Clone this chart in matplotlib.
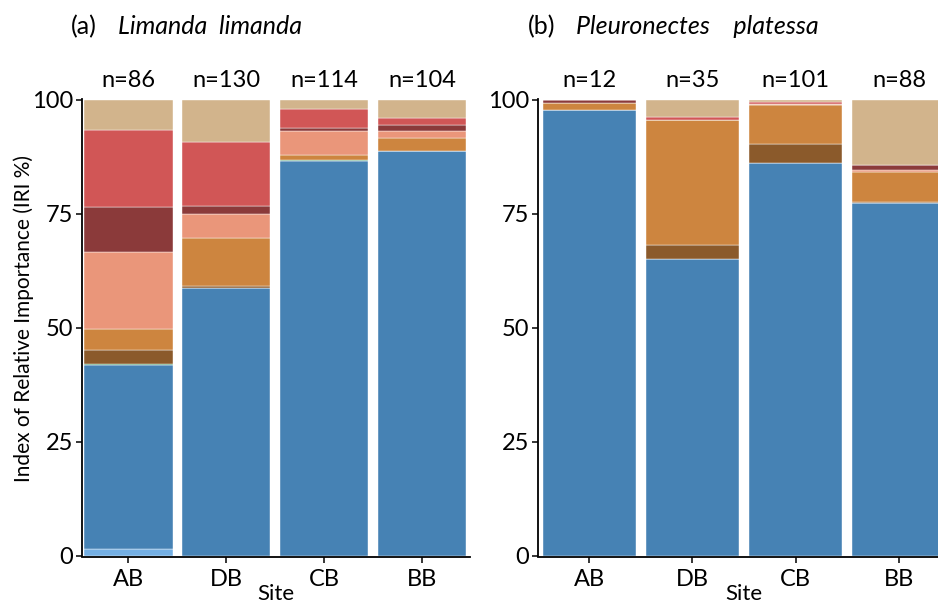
import numpy as np
import matplotlib
matplotlib.use("Agg")
import matplotlib.pyplot as plt

plt.rcParams["font.family"] = ["Lato", "DejaVu Sans"]

# Data (IRI %), stacked bottom -> top
sites = ["AB", "DB", "CB", "BB"]
prey = ["p1", "p2", "p3", "p4", "p5", "p6", "p7", "p8", "p9"]
colors = ["#74AFE3", "#4682B4", "#2E8B57", "#8B5A2B", "#CD853F",
          "#EA967A", "#8B3A3A", "#D15656", "#D2B48C"]

# Limanda limanda
dab_n = ["n=86", "n=130", "n=114", "n=104"]
dab_vals = [
    [1.4, 0.0, 0.0, 0.0],     # p1
    [40.4, 58.8, 86.6, 88.8], # p2
    [0.2, 0.0, 0.2, 0.0],     # p3
    [3.2, 0.4, 0.0, 0.0],     # p4
    [4.6, 10.4, 1.2, 2.9],    # p5
    [16.8, 5.3, 5.2, 1.5],    # p6
    [9.8, 1.9, 0.7, 1.4],     # p7
    [16.9, 14.0, 4.2, 1.4],   # p8
    [6.7, 9.2, 1.9, 4.0],     # p9
]

# Pleuronectes platessa
plaice_n = ["n=12", "n=35", "n=101", "n=88"]
plaice_vals = [
    [0.0, 0.0, 0.0, 0.0],
    [97.8, 65.1, 86.2, 77.4],
    [0.0, 0.0, 0.0, 0.0],
    [0.0, 3.0, 4.1, 0.2],
    [1.5, 27.4, 8.6, 6.6],
    [0.0, 0.2, 0.3, 0.5],
    [0.7, 0.0, 0.0, 1.1],
    [0.0, 0.6, 0.3, 0.0],
    [0.0, 3.7, 0.5, 14.2],
]

W, H = 938, 606
FS = 17
fig = plt.figure(figsize=(W / 100, H / 100), dpi=100)


def px_axes(x0, x1, y0, y1):
    return fig.add_axes([x0 / W, 1 - y1 / H, (x1 - x0) / W, (y1 - y0) / H])


def draw_panel(ax, vals, nlabs, xlim, label, species, tx, sx):
    x = np.arange(1, len(sites) + 1)
    bottom = np.zeros(len(sites))
    for v, c in zip(vals, colors):
        v = np.array(v)
        ax.bar(x, v, width=0.9, bottom=bottom, color=c,
               edgecolor="#FFFFFF", linewidth=0.3)
        bottom += v
    ax.set_xlim(*xlim)
    ax.set_ylim(-0.3, 100.2)
    ax.set_yticks([0, 25, 50, 75, 100])
    ax.set_xticks(x)
    ax.set_xticklabels(sites)
    for s in ["top", "right"]:
        ax.spines[s].set_visible(False)
    ax.spines["left"].set_bounds(0, 100.2)
    for s in ["left", "bottom"]:
        ax.spines[s].set_linewidth(1.3)
    ax.tick_params(length=4, width=1.1, labelsize=FS, pad=2)
    ax.tick_params(axis="x", pad=5)
    for xi, t in zip(x, nlabs):
        ax.text(xi, 104.2, t, ha="center", va="center", fontsize=FS,
                clip_on=False)
    ax.set_xlabel("Site", fontsize=16, labelpad=-5)
    fig.text(tx / W, 1 - 27 / H, label, fontsize=FS + 1, ha="left", va="center")
    fig.text(sx / W, 1 - 27 / H, species, fontsize=FS + 1, style="italic",
             ha="left", va="center")


ax1 = px_axes(81.5, 470, 99, 557)
draw_panel(ax1, dab_vals, dab_n, (0.52, 4.49), "(a)", "Limanda  limanda", 71, 118)

ax2 = px_axes(537.5, 950.5, 99, 557)
draw_panel(ax2, plaice_vals, plaice_n, (0.5, 4.5), "(b)", "Pleuronectes    platessa", 528, 576)

fig.text(24 / W, 1 - 318 / H, "Index of Relative Importance (IRI %)",
         rotation=90, fontsize=15, ha="center", va="center")

fig.savefig("out.png", dpi=100)
